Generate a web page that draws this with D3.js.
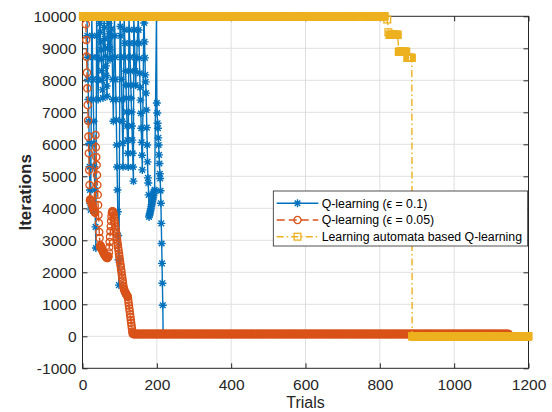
<!DOCTYPE html>
<html>
<head>
<meta charset="utf-8">
<script src="https://cdn.jsdelivr.net/npm/d3@7"></script>
<style>
  body { margin: 0; background: #fff; }
  svg { font-family: "Liberation Sans", Arial, Helvetica, sans-serif; }
</style>
</head>
<body>
<svg id="chart" width="552" height="412"></svg>
<script>
// tick values
var xTicks = [0, 200, 400, 600, 800, 1000, 1200];
var yTicks = [-1000, 0, 1000, 2000, 3000, 4000, 5000, 6000, 7000, 8000, 9000, 10000];

// Q-learning (eps = 0.1): runs of consecutive trials [first trial, values]
var blueRuns = [
  [12, [10000, 9390, 8720, 8030, 7400, 6720, 6030, 5300, 4570, 4150, 3950]],
  [25, [10000, 9390, 8720, 8030, 7400, 6720, 6030, 5300, 4570, 3900, 3420, 2760]],
  [38, [10000, 9390, 8720, 8030, 7400]],
  [46, [10000, 9780, 9500, 9200, 8950, 8650, 8300, 8000, 7700, 7450]],
  [58, [10000, 9650, 9300, 9000, 8750, 8450, 8150, 7820, 7500]],
  [69, [10000, 9780, 9450, 9050, 8950, 8650]],
  [77, [10000, 9600, 9390, 8720, 8030, 7400, 6720]],
  [86, [10000, 9390, 8720, 8030, 7400, 6760, 5980, 5290, 4570, 3890, 3150, 2390, 1600]],
  [101, [10000, 9680, 9390, 8720, 8030, 7400, 6720, 6030, 5300]],
  [112, [10000, 9580, 9160, 8720, 8290, 7850, 7440, 7010, 6570, 6130, 5720, 5290]],
  [125, [10000, 9580, 9160, 8720, 8290, 7850, 7440, 7010, 6570, 6130, 5720, 5290, 4850]],
  [138, [10000, 9580, 9160, 8720, 8290, 7850]],
  [150, [10000, 9570, 9160, 8690, 8220, 7780, 7380, 6970, 6500, 6060, 5660, 5200]],
  [165, [10000, 9790, 9200, 8700, 8170, 7950, 7600, 7070, 6520, 5980, 5450, 4950, 4790, 4420]],
  [179, [3730, 3780, 3830, 3880, 3930, 3990, 4050, 4110, 4170, 4230, 4290, 4350, 4410, 4470, 4530, 4580]],
  [199, [10000, 7290, 6980, 6660, 6500, 6200, 5980, 5670, 5400, 5080, 4930, 4550, 4160, 3530, 2900, 2280, 1660, 970, 70]]
];
var blueFlat = [[218, 1147, 70]];

// Q-learning (eps = 0.05): one value per trial from orangeStart
var orangeStart = 9;
var orangeValues = [
  9750, 9260, 8740, 8240, 7750, 7230, 6740, 6240, 5720, 5200, 4730, 4250,
  4280, 4250, 4220, 4180, 4150, 4120, 4080, 4040, 4000, 3960, 3930, 3900, 3880, 3860,
  6290, 5910, 5600, 5350, 5040, 4730, 4420, 4100, 3790, 3540, 3260, 3070, 2790,
  2850, 2820, 2790, 2760, 2730, 2700, 2680, 2650, 2620, 2600, 2580, 2560, 2540, 2520,
  2500, 2490, 2470, 2460, 2450, 2450, 2460, 2480, 2500,
  2620, 2780, 2950, 3110, 3280, 3440, 3600, 3740, 3850,
  3900, 3910, 3890, 3860,
  3780, 3700, 3610, 3530, 3440, 3360, 3270, 3190, 3100, 3020, 2930, 2850, 2760, 2680,
  2590, 2510, 2420, 2340, 2250, 2170, 2080, 2000, 1910, 1830, 1740, 1660, 1570, 1500,
  1460, 1430, 1400, 1380, 1350, 1330, 1310, 1290, 1270, 1250, 1230,
  1140, 1050, 960, 870, 780, 690, 600, 510, 420, 330, 240, 150, 90
];
var orangeFlat = [[136, 1147, 70]];

// Learning automata based Q-learning: [first trial, last trial, value]
var yellowFlat = [
  [1, 813, 10000], [820, 820, 9900], [823, 823, 9500], [826, 848, 9420],
  [851, 871, 8890], [874, 886, 8700], [887, 1200, 0]
];

var legendLabels = [
  "Q-learning (\u03f5 = 0.1)",
  "Q-learning (\u03f5 = 0.05)",
  "Learning automata based Q-learning"
];

function expandFlat(runs) {
  var pts = [];
  runs.forEach(function (r) {
    d3.range(r[0], r[1] + 1).forEach(function (t) { pts.push([t, r[2]]); });
  });
  return pts;
}

var bluePts = [];
blueRuns.forEach(function (r) {
  r[1].forEach(function (v, i) { bluePts.push([r[0] + i, v]); });
});
bluePts = bluePts.concat(expandFlat(blueFlat));

var orangePts = orangeValues.map(function (v, i) { return [orangeStart + i, v]; })
  .concat(expandFlat(orangeFlat));
var yellowPts = expandFlat(yellowFlat);

var svg = d3.select("#chart"),
    margin = {top: 16.3, right: 23.5, bottom: 43.7, left: 82.5},
    width = +svg.attr("width") - margin.left - margin.right,
    height = +svg.attr("height") - margin.top - margin.bottom;

var g = svg.append("g")
    .attr("transform", "translate(" + margin.left + "," + margin.top + ")");

var x = d3.scaleLinear().domain([0, 1200]).range([0, width]);
var y = d3.scaleLinear().domain([-1000, 10000]).range([height, 0]);

var axisColor = "#262626";
var plain = d => String(d);

// grid
g.append("g").selectAll("line").data(xTicks.slice(1, -1)).enter().append("line")
    .attr("x1", d => x(d)).attr("x2", d => x(d))
    .attr("y1", 0).attr("y2", height)
    .attr("stroke", "#dfdfdf").attr("stroke-width", 1);
g.append("g").selectAll("line").data(yTicks.slice(1, -1)).enter().append("line")
    .attr("y1", d => y(d)).attr("y2", d => y(d))
    .attr("x1", 0).attr("x2", width)
    .attr("stroke", "#dfdfdf").attr("stroke-width", 1);

// axes (ticks point inward on all four sides)
function styleAxis(sel) {
  sel.select(".domain").remove();
  sel.attr("font-family", null).attr("font-size", null);
  sel.selectAll(".tick line").attr("stroke", axisColor);
  sel.selectAll(".tick text").attr("fill", axisColor).style("font-size", "15.5px");
}
g.append("g").attr("transform", "translate(0," + height + ")")
    .call(d3.axisBottom(x).tickValues(xTicks).tickFormat(plain)
      .tickSizeInner(-5).tickSizeOuter(0).tickPadding(11))
    .call(styleAxis);
g.append("g")
    .call(d3.axisTop(x).tickValues(xTicks).tickSizeInner(-5).tickSizeOuter(0).tickFormat(""))
    .call(styleAxis);
g.append("g")
    .call(d3.axisLeft(y).tickValues(yTicks).tickFormat(plain)
      .tickSizeInner(-5).tickSizeOuter(0).tickPadding(6))
    .call(styleAxis);
g.append("g").attr("transform", "translate(" + width + ",0)")
    .call(d3.axisRight(y).tickValues(yTicks).tickSizeInner(-5).tickSizeOuter(0).tickFormat(""))
    .call(styleAxis);

g.append("rect")
    .attr("width", width).attr("height", height)
    .attr("fill", "none").attr("stroke", axisColor).attr("stroke-width", 1);

// axis labels
svg.append("text")
    .attr("x", margin.left + width / 2).attr("y", 408)
    .attr("text-anchor", "middle")
    .style("font-size", "16px").attr("fill", axisColor)
    .text("Trials");
svg.append("text")
    .attr("transform", "translate(31," + (margin.top + height / 2) + ") rotate(-90)")
    .attr("text-anchor", "middle")
    .style("font-size", "17px").style("font-weight", "bold").attr("fill", axisColor)
    .text("Iterations");

// marker shapes
var asterisk = "M-4,0H4M0,-4V4M-2.8,-2.8L2.8,2.8M-2.8,2.8L2.8,-2.8";
var series = [
  {pts: bluePts, color: "#0072BD", dash: null, marker: "star"},
  {pts: orangePts, color: "#D95319", dash: "8,4", marker: "circle"},
  {pts: yellowPts, color: "#EDB120", dash: "7,3,1.5,3", marker: "square"}
];

function addMarker(sel, type, color) {
  if (type === "star") {
    sel.append("path").attr("d", asterisk)
      .attr("stroke", color).attr("stroke-width", 1.4).attr("fill", "none");
  } else if (type === "circle") {
    sel.append("circle").attr("r", 3.6)
      .attr("stroke", color).attr("stroke-width", 1.3).attr("fill", "none");
  } else {
    sel.append("rect").attr("x", -3.4).attr("y", -3.4).attr("width", 6.8).attr("height", 6.8)
      .attr("stroke", color).attr("stroke-width", 1.3).attr("fill", "none");
  }
}

var line = d3.line().x(d => x(d[0])).y(d => y(d[1]));

series.forEach(function (s) {
  var sg = g.append("g");
  sg.append("path")
    .datum(s.pts)
    .attr("d", line)
    .attr("fill", "none")
    .attr("stroke", s.color)
    .attr("stroke-width", 1.4)
    .attr("stroke-dasharray", s.dash);
  sg.selectAll("g.m").data(s.pts).enter().append("g")
    .attr("class", "m")
    .attr("transform", d => "translate(" + x(d[0]) + "," + y(d[1]) + ")")
    .each(function () { addMarker(d3.select(this), s.marker, s.color); });
});

// legend
var lg = svg.append("g").attr("transform", "translate(273.3,191)");
lg.append("rect")
    .attr("width", 254.4).attr("height", 55)
    .attr("fill", "#fff").attr("stroke", axisColor).attr("stroke-width", 0.8);
series.forEach(function (s, i) {
  var row = lg.append("g").attr("transform", "translate(0," + (12.3 + i * 16.7) + ")");
  row.append("line")
    .attr("x1", 3.4).attr("x2", 45)
    .attr("stroke", s.color).attr("stroke-width", 1.4)
    .attr("stroke-dasharray", s.dash);
  var m = row.append("g").attr("transform", "translate(24.2,0)");
  addMarker(m, s.marker, s.color);
  row.append("text")
    .attr("x", 48.4).attr("dy", "0.35em")
    .style("font-size", "12.3px").attr("fill", "#000")
    .text(legendLabels[i]);
});
</script>
</body>
</html>
